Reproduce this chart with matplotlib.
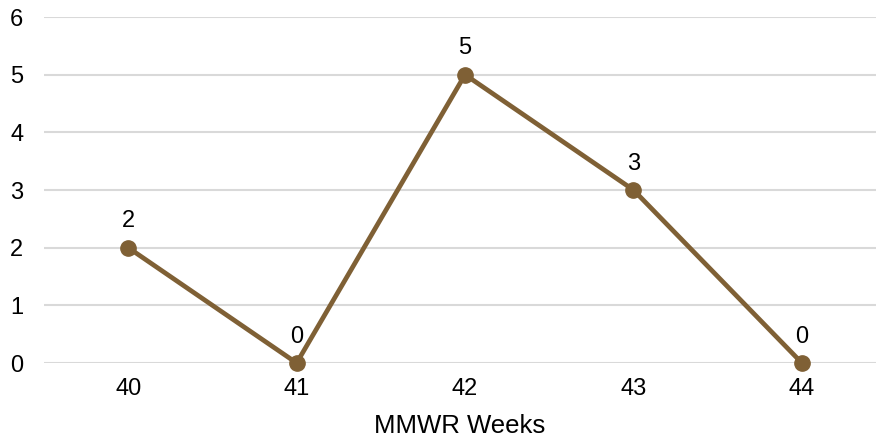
import matplotlib.pyplot as plt

weeks = ["40", "41", "42", "43", "44"]
counts = [2, 0, 5, 3, 0]

plt.rcParams['font.family'] = ['Liberation Sans', 'DejaVu Sans']

fig = plt.figure(figsize=(8.76, 4.4), dpi=100)
ax = fig.add_axes([44 / 876, 1 - 363 / 440, 1 - 44 / 876, (363 - 17) / 440])

x = range(len(weeks))
ax.plot(x, counts, color='#7F6035', linewidth=3.4, marker='o', markersize=11,
        zorder=3, clip_on=False)
for xi, v in zip(x, counts):
    ax.annotate(str(v), (xi, v), xytext=(0, 11), textcoords='offset points',
                ha='center', va='bottom', fontsize=17, color='#000000')

ax.set_xlim(-0.5, 4.44)
ax.set_ylim(0, 6)
ax.set_yticks(range(0, 7))
ax.set_xticks(list(x))
ax.set_xticklabels(weeks)
ax.tick_params(axis='both', length=0, labelsize=17, colors='#000000')
ax.tick_params(axis='y', pad=15)
ax.tick_params(axis='x', pad=11)
ax.grid(axis='y', color='#D9D9D9', linewidth=1.5)
ax.set_axisbelow(True)
for s in ax.spines.values():
    s.set_visible(False)
ax.set_xlabel("MMWR Weeks", fontsize=18.5, labelpad=10)

fig.savefig("out.png", dpi=100)
